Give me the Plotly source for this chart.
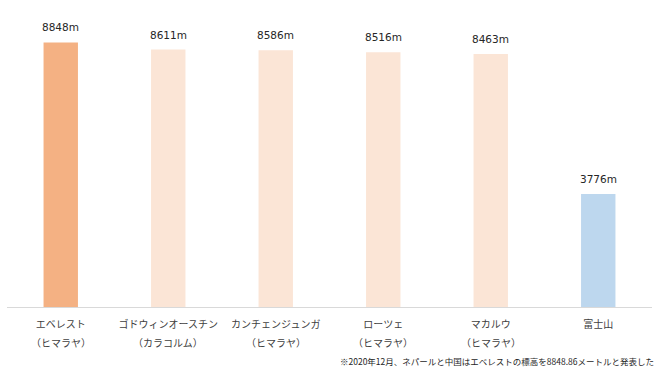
import plotly.graph_objects as go

names = ["エベレスト", "ゴドウィンオースチン", "カンチェンジュンガ", "ローツェ", "マカルウ", "富士山"]
regions = ["（ヒマラヤ）", "（カラコルム）", "（ヒマラヤ）", "（ヒマラヤ）", "（ヒマラヤ）", ""]
heights = [8848, 8611, 8586, 8516, 8463, 3776]
value_labels = ["8848m", "8611m", "8586m", "8516m", "8463m", "3776m"]
bar_colors = ["#F4B183", "#FBE5D6", "#FBE5D6", "#FBE5D6", "#FBE5D6", "#BDD7EE"]
footnote = "※2020年12月、ネパールと中国はエベレストの標高を8848.86メートルと発表した"

jp = "Noto Sans CJK JP"

fig = go.Figure(go.Bar(
    x=names, y=heights, marker=dict(color=bar_colors, line=dict(width=0)),
    width=0.32, hoverinfo="skip",
))

annotations = []
for n, h, t in zip(names, heights, value_labels):
    annotations.append(dict(x=n, y=h, xref="x", yref="y", text=t, showarrow=False,
                            yanchor="bottom", yshift=7,
                            font=dict(family="DejaVu Sans", size=10.5, color="#262626")))
for n, r in zip(names, regions):
    if r:
        annotations.append(dict(x=n, y=0, xref="x", yref="y", text=r, showarrow=False,
                                yanchor="middle", yshift=-35,
                                font=dict(family=jp, size=10, color="#404040")))
annotations.append(dict(x=1.0, y=0, xref="paper", yref="paper", text=footnote,
                        showarrow=False, xanchor="right", yanchor="middle", yshift=-54,
                        xshift=4,
                        font=dict(family=jp, size=8.5, color="#262626")))

fig.update_layout(
    width=660, height=371,
    margin=dict(l=7, r=8, t=8, b=64, autoexpand=False),
    paper_bgcolor="white", plot_bgcolor="white",
    showlegend=False,
    xaxis=dict(showline=True, linecolor="#D9D9D9", linewidth=1, ticks="",
               tickfont=dict(family=jp, size=10, color="#404040"),
               ticklabelstandoff=8, showgrid=False, zeroline=False, automargin=False),
    yaxis=dict(range=[0, 10000], visible=False, showgrid=False, zeroline=False,
               automargin=False),
    annotations=annotations,
)

fig.write_html("out.html", config={"displayModeBar": False},
               post_script="document.body.style.margin='0';document.body.style.overflow='hidden';")
